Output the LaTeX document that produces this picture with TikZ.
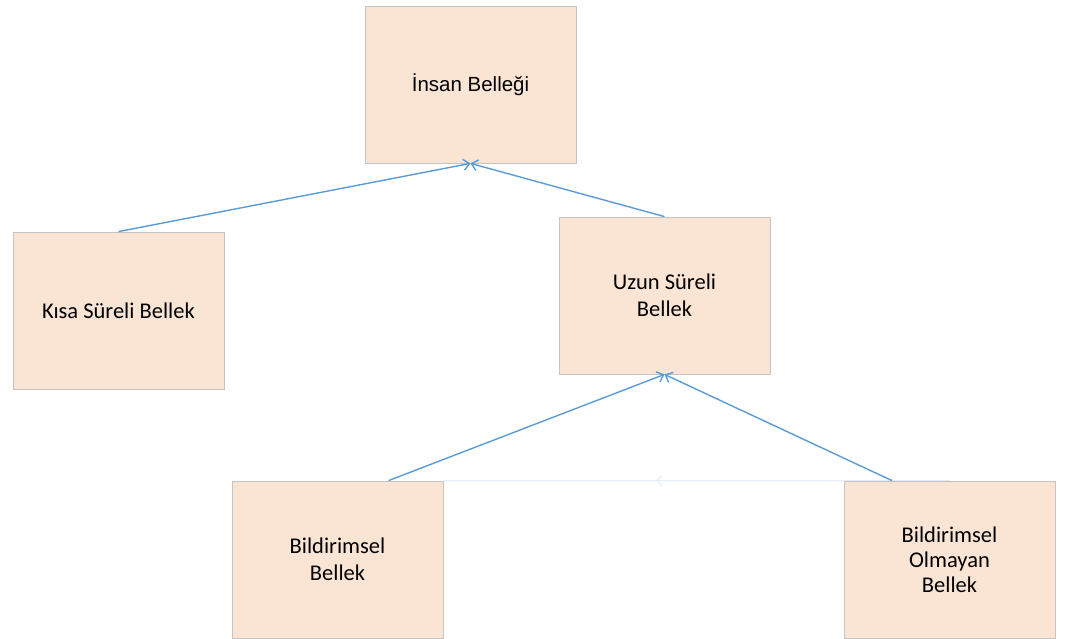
\documentclass[tikz,border=0pt]{standalone}
\usepackage{fontspec}
\setmainfont{Carlito}
\newfontfamily\arialf{Liberation Sans}
\usetikzlibrary{arrows.meta,decorations.markings}
\definecolor{boxfill}{HTML}{FAE5D5}
\definecolor{boxline}{HTML}{C4C4C4}
\definecolor{linkblue}{HTML}{5B9BD5}
\definecolor{faint}{HTML}{E6ECF6}
\begin{document}
\begin{tikzpicture}[x=1pt,y=-1pt,
  membox/.style={draw=boxline, line width=0.8pt, fill=boxfill, minimum width=211pt, minimum height=157pt,
    inner sep=0pt, align=center, font=\fontsize{22.5}{27}\selectfont, text=black},
  link/.style={draw=linkblue, line width=1.4pt, -{Straight Barb[length=6pt,width=11pt,line width=1.4pt]}}]
\useasboundingbox (0,0) rectangle (1067,639);
\node[membox, font=\arialf\fontsize{20.5}{24}\selectfont] (top) at (470.5,84.5) {İnsan Belleği};
\node[membox] (kisa) at (118.5,310.5) {Kısa Süreli Bellek};
\node[membox] (uzun) at (664.5,295.5) {Uzun Süreli\\Bellek};
\node[membox] (bild) at (337.5,559.5) {Bildirimsel\\Bellek};
\node[membox, font=\fontsize{22.5}{25}\selectfont] (olm) at (949.5,559.5) {Bildirimsel\\Olmayan\\Bellek};
\coordinate (bildj) at ([xshift=51pt]bild.north);
\coordinate (olmj) at ([xshift=-57.5pt]olm.north);
\draw[faint, line width=1.2pt, postaction={decorate},
  decoration={markings, mark=at position 0.58 with {\arrow{Straight Barb[length=5pt,width=10pt,line width=1.2pt]}}}]
  (olm.north) -- (bild.north east);
\draw[link] (kisa.north) -- (top.south);
\draw[link] (uzun.north) -- (top.south);
\draw[link] (bildj) -- (uzun.south);
\draw[link] (olmj) -- (uzun.south);
\end{tikzpicture}
\end{document}
